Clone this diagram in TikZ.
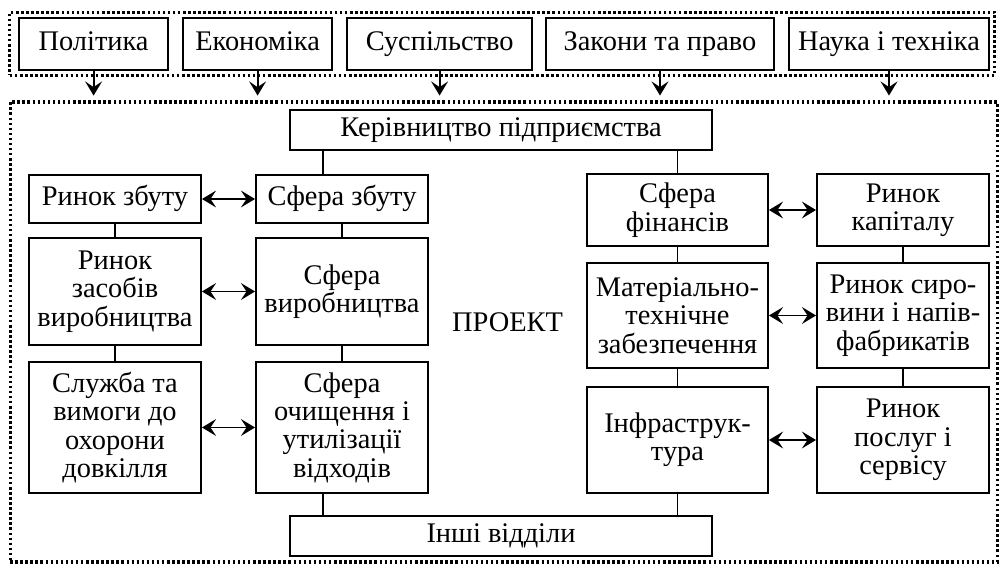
\documentclass[tikz,border=0pt]{standalone}
\usepackage{fontspec}
\setmainfont{Liberation Serif}
\usetikzlibrary{arrows.meta}

\begin{document}
\begin{tikzpicture}[
        box/.style={rectangle, draw, line width=1.4pt, align=center, inner sep=0pt, font=\fontsize{20.2}{20.2}\selectfont},
        oneline/.style={box, text height=13pt, text depth=4pt},
        frame/.style={rectangle, draw, line width=2.2pt, dash pattern=on 1.8pt off 1.8pt, inner sep=0pt},
        link/.style={draw, line width=1.3pt},
        pair/.style={draw, line width=1.3pt, {Stealth[length=10pt,width=12pt,inset=4pt]}-{Stealth[length=10pt,width=12pt,inset=4pt]}},
        down/.style={draw, line width=1.3pt, -{Stealth[length=10pt,width=12pt,inset=4pt]}, shorten >=3.5pt}
    ]
        \useasboundingbox (0,0) rectangle (25.1,14.25);

        % Frames
        \node[frame, minimum width=24.625cm, minimum height=1.575cm] (env) at (12.56, 13.16) {};
        \node[frame, minimum width=24.675cm, minimum height=11.5cm] (project) at (12.59, 5.95) {};

        % Environment
        \node[oneline, minimum width=3.725cm, minimum height=1.3cm] (politics) at (2.34, 13.15) {Політика};
        \node[oneline, minimum width=3.725cm, minimum height=1.3cm] (economy) at (6.44, 13.15) {Економіка};
        \node[oneline, minimum width=4.625cm, minimum height=1.3cm] (society) at (10.99, 13.15) {Суспільство};
        \node[oneline, minimum width=5.7cm, minimum height=1.3cm] (law) at (16.5, 13.15) {Закони та право};
        \node[oneline, minimum width=5cm, minimum height=1.3cm] (science) at (22.225, 13.15) {Наука і техніка};

        % Enterprise
        \node[oneline, minimum width=10.55cm, minimum height=1cm] (mgmt) at (12.525, 11.0) {Керівництво підприємства};
        \node[oneline, minimum width=10.55cm, minimum height=1cm] (others) at (12.525, 0.84) {Інші відділи};
        \node[font=\fontsize{20.2}{20.2}\selectfont] (title) at (12.69, 6.2) {ПРОЕКТ};

        % Left half
        \node[oneline, minimum width=4.3cm, minimum height=1.2cm] (salesmkt) at (2.875, 9.275) {Ринок збуту};
        \node[oneline, minimum width=4.3cm, minimum height=1.2cm] (salessph) at (8.55, 9.275) {Сфера збуту};
        \node[box, minimum width=4.3cm, minimum height=2.675cm] (prodmkt) at (2.875, 6.9625) {Ринок\\засобів\\виробництва};
        \node[box, minimum width=4.3cm, minimum height=2.675cm] (prodsph) at (8.55, 6.9625) {Сфера\\виробництва};
        \node[box, minimum width=4.3cm, minimum height=3.275cm] (envsvc) at (2.875, 3.5625) {Служба та\\вимоги до\\охорони\\довкілля};
        \node[box, minimum width=4.3cm, minimum height=3.275cm] (wastesph) at (8.55, 3.5625) {Сфера\\очищення і\\утилізації\\відходів};

        % Right half
        \node[box, minimum width=4.525cm, minimum height=1.8cm] (finsph) at (16.9375, 9.0) {Сфера\\фінансів};
        \node[box, minimum width=4.3cm, minimum height=1.8cm] (capmkt) at (22.575, 9.0) {Ринок\\капіталу};
        \node[box, minimum width=4.525cm, minimum height=2.625cm] (supply) at (16.9375, 6.3625) {Матеріально-\\технічне\\забезпечення};
        \node[box, minimum width=4.3cm, minimum height=2.625cm] (rawmkt) at (22.575, 6.3625) {Ринок сиро-\\вини і напів-\\фабрикатів};
        \node[box, minimum width=4.525cm, minimum height=2.65cm] (infra) at (16.9375, 3.25) {Інфраструк-\\тура};
        \node[box, minimum width=4.3cm, minimum height=2.65cm] (servmkt) at (22.575, 3.25) {Ринок\\послуг і\\сервісу};

        % Influence of environment
        \foreach \src in {politics, economy, society, law, science}
            \draw[down] (\src) -- (\src |- project.north);

        % Links
        \coordinate (ltop) at ([xshift=-4.75mm]salessph.north);
        \coordinate (lbot) at ([xshift=-4.75mm]wastesph.south);
        \draw[link] (ltop) -- (ltop |- mgmt.south);
        \draw[link] (lbot) -- (lbot |- others.north);
        \draw[link] (finsph.north) -- (finsph.north |- mgmt.south);
        \draw[link] (infra.south) -- (infra.south |- others.north);
        \path[link]
            (salesmkt) edge (prodmkt)
            (prodmkt) edge (envsvc)
            (salessph) edge (prodsph)
            (prodsph) edge (wastesph)
            (finsph) edge (supply)
            (supply) edge (infra)
            (capmkt) edge (rawmkt)
            (rawmkt) edge (servmkt);

        % Exchange with markets
        \draw[pair] (salesmkt) -- (salessph);
        \draw[pair] (prodmkt) -- (prodsph);
        \draw[pair] (envsvc) -- (wastesph);
        \draw[pair] (finsph) -- (capmkt);
        \draw[pair] (supply) -- (rawmkt);
        \draw[pair] (infra) -- (servmkt);
    \end{tikzpicture}
\end{document}
